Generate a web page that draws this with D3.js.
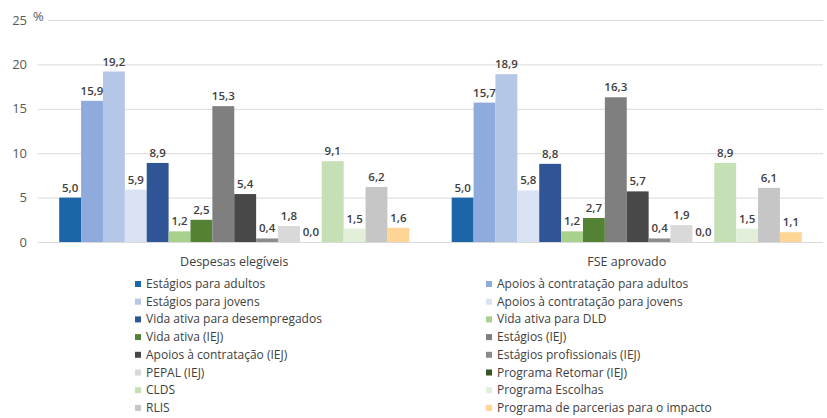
<!DOCTYPE html>
<meta charset="utf-8">
<style>
body { margin: 0; background: #fff; }
text { font-family: "Open Sans", "Noto Sans", sans-serif; }
.tick text { fill: #595959; font-size: 13px; }
.val { fill: #404040; font-size: 11.5px; font-weight: 600; text-anchor: middle; }
.cat { fill: #404040; font-size: 12.5px; text-anchor: middle; }
.leg { fill: #404040; font-size: 12px; }
</style>
<svg width="827" height="418"></svg>
<script src="https://d3js.org/d3.v7.min.js"></script>
<script>

var groups = ["Despesas elegíveis", "FSE aprovado"];

var series = [
  "Estágios para adultos",
  "Apoios à contratação para adultos",
  "Estágios para jovens",
  "Apoios à contratação para jovens",
  "Vida ativa para desempregados",
  "Vida ativa para DLD",
  "Vida ativa (IEJ)",
  "Estágios (IEJ)",
  "Apoios à contratação (IEJ)",
  "Estágios profissionais (IEJ)",
  "PEPAL (IEJ)",
  "Programa Retomar (IEJ)",
  "CLDS",
  "Programa Escolhas",
  "RLIS",
  "Programa de parcerias para o impacto"
];

var despesas = [5.0, 15.9, 19.2, 5.9, 8.9, 1.2, 2.5, 15.3, 5.4, 0.4, 1.8, 0.0, 9.1, 1.5, 6.2, 1.6];
var fse      = [5.0, 15.7, 18.9, 5.8, 8.8, 1.2, 2.7, 16.3, 5.7, 0.4, 1.9, 0.0, 8.9, 1.5, 6.1, 1.1];

var colors = ["#1c66a8", "#8faadc", "#b4c7e7", "#dae3f3", "#2f5597", "#a9d18e", "#548235", "#7f7f7f",
              "#484848", "#8c8c8c", "#d9d9d9", "#375623", "#c5e0b4", "#e2f0d9", "#c6c6c6", "#ffd596"];

var yTicks = [0, 5, 10, 15, 20, 25];

var svg = d3.select("svg"),
    plotL = 38, plotR = 823, plotT = 20, plotB = 242;

var values = [despesas, fse];

var x0 = d3.scaleBand()
    .domain(groups)
    .range([plotL, plotR])
    .paddingInner(0.108)
    .paddingOuter(0.054);

var x1 = d3.scaleBand()
    .domain(series)
    .range([0, x0.bandwidth()]);

var y = d3.scaleLinear()
    .domain([0, 25])
    .range([plotB, plotT]);

// gridlines + y labels
var yAxis = svg.append("g")
    .attr("class", "axis")
    .attr("transform", "translate(" + plotL + ",0)")
    .call(d3.axisLeft(y).tickValues(yTicks).tickSize(-(plotR - plotL)).tickPadding(11));
yAxis.select(".domain").remove();
yAxis.selectAll(".tick line").attr("stroke", "#d9d9d9");

svg.append("rect").attr("x", 31).attr("y", 10).attr("width", 17).attr("height", 14).attr("fill", "#fff");
svg.append("text").attr("x", 33).attr("y", 21).attr("fill", "#595959").style("font-size", "13px").text("%");

var g = svg.selectAll(".grp")
    .data(groups)
    .enter().append("g")
    .attr("class", "grp")
    .attr("transform", function(d) { return "translate(" + x0(d) + ",0)"; });

g.selectAll("rect")
    .data(function(d, i) { return values[i].map(function(v, j) { return { s: series[j], v: v, c: colors[j] }; }); })
    .enter().append("rect")
    .attr("x", function(d) { return x1(d.s); })
    .attr("y", function(d) { return y(d.v); })
    .attr("width", x1.bandwidth())
    .attr("height", function(d) { return y(0) - y(d.v); })
    .attr("fill", function(d) { return d.c; });

g.selectAll(".val")
    .data(function(d, i) { return values[i].map(function(v, j) { return { s: series[j], v: v }; }); })
    .enter().append("text")
    .attr("class", "val")
    .attr("x", function(d) { return x1(d.s) + x1.bandwidth() / 2; })
    .attr("y", function(d) { return y(d.v) - 6; })
    .text(function(d) { return d3.format(".1f")(d.v).replace(".", ","); });

g.append("text")
    .attr("class", "cat")
    .attr("x", x0.bandwidth() / 2)
    .attr("y", 266)
    .text(function(d) { return d; });

// legend: two columns, row-wise
var legX = [135, 486], legY0 = 284, legStep = 17.7;
var leg = svg.selectAll(".legitem")
    .data(series)
    .enter().append("g")
    .attr("class", "legitem")
    .attr("transform", function(d, i) {
      return "translate(" + legX[i % 2] + "," + (legY0 + Math.floor(i / 2) * legStep) + ")";
    });
leg.append("rect")
    .attr("x", 0).attr("y", -3).attr("width", 6).attr("height", 6)
    .attr("fill", function(d, i) { return colors[i]; });
leg.append("text")
    .attr("class", "leg")
    .attr("x", 11)
    .attr("y", 4)
    .text(function(d) { return d; });

</script>
